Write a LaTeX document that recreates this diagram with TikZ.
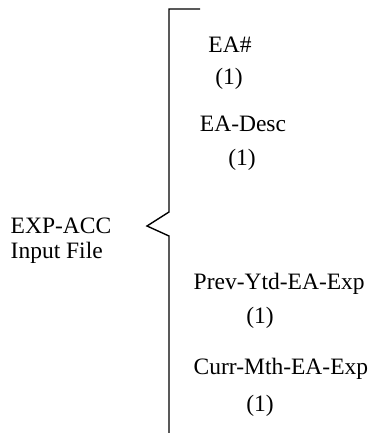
\documentclass[tikz,border=0pt]{standalone}
\usepackage{fontspec}
\setmainfont{Liberation Serif}
\usepackage{tikz}

\tikzset{field/.style={inner sep=0pt,font=\fontsize{23.5}{26}\selectfont}}

\begin{document}
\begin{tikzpicture}[x=1pt,y=-1pt,line width=1.4pt]
\useasboundingbox (0,0) rectangle (367,433);

% the brace
\draw (200,9) -- (169,9) -- (169,212) -- (147,226) -- (169,236) -- (169,433);

\node (FILE1)[field,anchor=west] at (10,226) {EXP-ACC};
\node (FILE2)[field,anchor=west] at (10,253) {Input File};

\node (EA)[field] at (230,45) {EA\#};
\node (EA1)[field] at (229,79) {(1)};
\node (DESC)[field] at (243,124) {EA-Desc};
\node (DESC1)[field] at (242,160) {(1)};
\node (PREV)[field,anchor=west] at (193,284) {Prev-Ytd-EA-Exp};
\node (PREV1)[field] at (260,318) {(1)};
\node (CURR)[field,anchor=west] at (193,369) {Curr-Mth-EA-Exp};
\node (CURR1)[field] at (260,406) {(1)};
\end{tikzpicture}
\end{document}
